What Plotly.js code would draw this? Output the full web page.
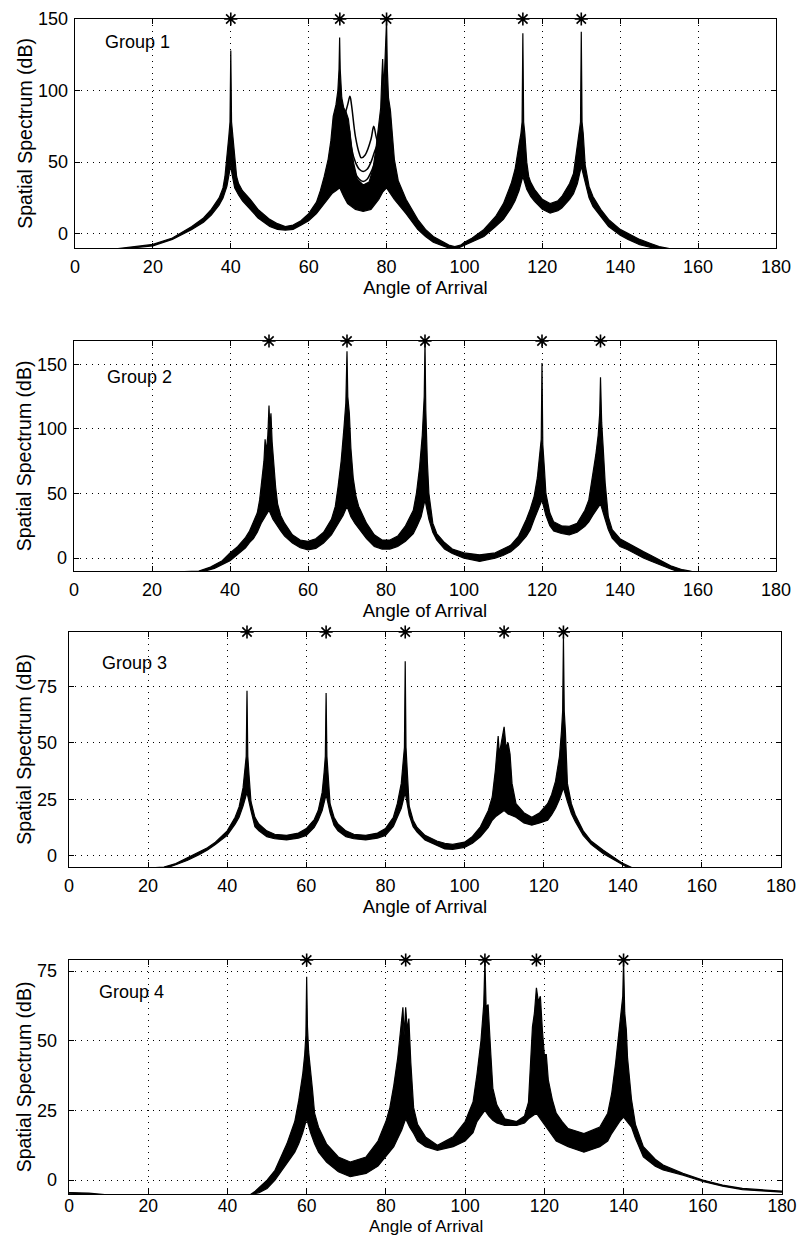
<!DOCTYPE html>
<html>
<head>
<meta charset="utf-8">
<script src="https://cdn.plot.ly/plotly-3.0.1.min.js"></script>
<style>html,body{margin:0;padding:0;background:#fff;}#chart{width:800px;height:1237px;}</style>
</head>
<body>
<div id="chart"></div>
<script>
// ---------- DATA ----------
const panelLabels = ["Group 1", "Group 2", "Group 3", "Group 4"];
const xTitle = "Angle of Arrival";
const yTitle = "Spatial Spectrum (dB)";
const xTicks = [0, 20, 40, 60, 80, 100, 120, 140, 160, 180];

// true directions of arrival (asterisks on top)
const g1Doa = [40, 68, 80, 115, 130];
const g2Doa = [50, 70, 90, 120, 135];
const g3Doa = [45, 65, 85, 110, 125];
const g4Doa = [60, 85, 105, 118, 140];

// y ticks
const g1YTicks = [0, 50, 100, 150];
const g2YTicks = [0, 50, 100, 150];
const g3YTicks = [0, 25, 50, 75];
const g4YTicks = [0, 25, 50, 75];

// Group 1: upper / lower envelope of the bundle of spectra [angle, dB]
const g1Upper = [[0,-14],[12,-10],[16,-9],[20,-7.5],[25,-3],[30,5],[33,11],[35,17],[37,25],[38,32],[38.5,40],[39,52],[39.5,68],[39.8,78],[40,128],[40.2,78],[40.5,68],[41,52],[41.5,40],[42,35],[43,30],[45,24],[47,17],[50,10],[52,7],[54,5],[56,6],[58,9],[60,14],[62,22],[63,30],[64,40],[65,52],[65.7,65],[66.3,82],[67,90],[67.5,100],[67.8,115],[67.95,137],[68.1,115],[68.5,95],[69,88],[69.6,85],[70.2,80],[70.8,65],[71.5,50],[72.5,38],[74,34],[75.5,36],[76.5,45],[77.3,60],[78,75],[78.5,88],[78.8,110],[79,122],[79.3,100],[79.6,118],[80,149],[80.2,115],[80.5,95],[81,86],[81.5,70],[82,52],[83,37],[85,24],[88,10],[90,3],[92,-2],[94,-5],[96,-8],[97.5,-9],[99,-8],[100,-6],[102,-3],[105,3],[108,12],[110,21],[112,35],[113,45],[113.5,55],[114,62],[114.5,70],[114.8,78],[115,140],[115.2,78],[115.5,70],[116,50],[116.5,40],[117,36],[118,31],[120,24],[122,21],[124,23],[125,26],[127,35],[128,42],[128.5,52],[129,62],[129.5,72],[129.8,78],[130,141],[130.2,78],[130.5,70],[131,48],[132,33],[133,26],[135,17],[137,10],[140,3],[142,0],[145,-4],[148,-7],[150,-9],[152,-10],[155,-12]];
const g1Lower = [[0,-14],[12,-10.5],[16,-9.8],[20,-8.5],[25,-4],[30,3],[33,8],[35,13],[37,20],[38,25],[39,33],[39.7,42],[40,48],[40.3,42],[41,32],[42,27],[43,23],[45,17],[47,11],[50,5],[52,3],[54,2.5],[56,3],[58,6],[60,9],[62,14],[64,21],[66,28],[67,30],[68,32],[69,26],[70,21],[72,17],[74,15.5],[76,17],[78,24],[79,29],[80,32],[81,28],[82,24],[85,14],[88,3],[90,-2],[92,-6],[94,-8],[96,-10],[98,-10.5],[100,-8],[102,-5.5],[105,-2],[108,5],[110,10],[112,18],[113,23],[114,30],[115,40],[116,31],[117,26],[118,22.6],[120,17],[122,14.4],[124,16],[125,18],[127,24],[128,28],[129,35],[130,47],[131,35],[132,25],[133,19],[135,12],[137,5],[140,-1],[142,-4],[145,-7.7],[148,-9.5],[150,-11]];
// Group 1: a few stray spectra between 68 and 80 degrees
const g1StrayA = [[69,80],[70,90],[70.6,96],[71,90],[72,68],[73,56],[73.5,53],[74.5,55],[76,66],[76.7,75],[77.3,68],[78,60]];
const g1StrayB = [[70.5,72],[71,60],[72,50],[73,45],[74,43.5],[75,45],[76,50],[77,58],[77.6,62]];
const g1StrayC = [[71,52],[72,42],[73,38],[74,36.5],[75,38],[76,43],[77,50]];

// Group 2
const g2Upper = [[0,-14],[32,-10],[35,-7],[38,-2],[40,4],[42,9],[44,16],[45,21],[46,28],[47,35],[47.6,45],[48.2,60],[48.7,75],[49,92],[49.3,82],[49.7,95],[50,118],[50.2,100],[50.5,112],[50.8,90],[51.2,72],[51.7,55],[52.2,42],[53,33],[54,27],[56,18],[58,14],[60,13],[62,15],[64,20],[66,30],[67,40],[67.7,55],[68.5,75],[69.2,100],[69.7,120],[70,160],[70.2,125],[70.6,112],[71,85],[71.6,62],[72.3,48],[73,40],[75,27],[77,18],[79,14],[81,14],[83,17],[85,25],[87,37],[87.8,50],[88.6,70],[89.3,95],[89.8,125],[90,167],[90.2,115],[90.6,75],[91,50],[92,27],[93,19],[95,12],[97,7],[100,4],[104,2.5],[108,4],[110,7],[112,10],[114,17],[116,30],[117,38],[118,48],[118.8,62],[119.4,78],[119.8,92],[120,151],[120.2,88],[120.6,70],[121,50],[122,35],[123,28],[125,25],[127,24.5],[129,27],[131,37],[132,45],[133,63],[133.8,80],[134.4,95],[134.8,112],[135,140],[135.3,105],[135.7,85],[136.2,58],[137,32],[138,22],[140,15],[142,11.6],[144,8],[146,5],[148,2],[150,-1],[153,-6],[156,-9],[158,-10],[160,-12]];
const g2Lower = [[0,-14],[33,-10.5],[36,-8],[38,-5],[40,-2],[42,3],[44,8],[45,12],[46,15],[47,20],[48,27],[49,32],[50,37],[51,30],[52,25],[53,21],[54,17],[56,11.6],[58,8],[60,6.4],[62,7.5],[64,11.6],[66,18],[67,23],[68,28],[69,33],[70,40],[71,32],[72,27],[73,23],[75,15],[77,9],[79,7],[81,7],[83,9],[85,13],[87,19],[88,25],[89,32],[90,45],[91,30],[92,20],[93,14],[95,7],[97,3.5],[100,0],[104,-2.6],[108,0],[110,2],[112,5],[114,10],[116,17],[117,22],[118,30],[119,38],[120,45],[121,33],[122,25],[123,21],[125,19],[127,18],[129,20],[131,24.5],[132,28],[133,33],[134,38],[135,42],[136,32],[137,22],[138,15.5],[140,9],[142,6.4],[144,3],[146,0],[148,-2.5],[150,-5],[153,-8.5],[155,-10.5]];

// Group 3
const g3Upper = [[0,-8],[24,-5],[27,-3.5],[30,-1],[33,1.5],[35,3.5],[37,6],[40,11],[42,17],[43,21.6],[44,30],[44.5,38],[44.8,44],[45,73],[45.2,44],[45.5,36],[46,24],[47,17],[48,14],[50,11],[52,9.5],[55,9],[58,10],[60,12],[62,16],[63,20],[64,28],[64.5,37],[64.8,44],[65,72],[65.2,44],[65.5,36],[66,23],[67,17],[68,14],[70,11],[72,9.5],[75,9],[78,10],[80,12],[82,17],[83,23],[84,32],[84.5,42],[84.8,48],[85,86],[85.2,48],[85.5,38],[86,22],[87,15.7],[88,12.5],[90,9],[93,6.5],[95,5.5],[97,5],[100,6],[102,8.5],[104,12.8],[106,20],[107,26],[107.8,38],[108.5,53],[108.8,45],[109.3,50],[110,57],[110.5,48],[111,50],[111.5,45],[112,32],[113,23],[115,19],[117,17],[119,19],[121,23],[122,27],[123,33],[124,44],[124.5,55],[124.8,64],[125,97],[125.2,64],[125.5,55],[126,32],[127,23],[128,18],[130,11],[132,6.5],[135,2.5],[138,-1],[140,-3.4],[142,-5],[144,-7]];
const g3Lower = [[0,-8],[24.5,-5.5],[27,-4],[30,-2],[33,0.5],[35,2.5],[37,5],[40,9],[42,14],[43,17],[44,22],[45,28],[46,20],[47,12.8],[48,11],[50,8.4],[52,7.5],[55,7],[58,7.8],[60,9],[62,12.5],[63,15.7],[64,20],[65,27],[66,19],[67,13.5],[68,11],[70,8.4],[72,7.5],[75,7],[78,7.8],[80,9],[82,13],[83,17],[84,21],[85,28],[86,18],[87,12.8],[88,10.5],[90,7],[93,4.5],[95,3],[97,2.8],[100,3.7],[102,5.5],[104,8.4],[106,12.5],[107,15.7],[108,17.5],[110,20],[111,18.5],[113,17],[115,14.5],[117,13.5],[119,14.5],[121,15.7],[122,18],[123,21],[124,25],[125,30],[126,24],[127,18.7],[128,15],[130,9],[132,5],[135,1],[138,-2],[140,-4],[142,-6]];

// Group 4
const g4Upper = [[0,-4.5],[5,-4.7],[9,-5.2],[20,-7],[45,-6],[47,-4],[50,0],[52,3.5],[55,13],[57,21],[58,28.6],[59,38],[59.5,45],[59.8,52],[60,73],[60.2,55],[60.5,46],[61,40],[61.5,32],[62,24],[63,19],[65,13],[68,8.3],[71,6.5],[75,8.3],[78,14],[80,21],[81,26],[82,34],[83,44],[83.8,55],[84.3,62],[84.6,52],[85,62],[85.4,54],[85.8,58],[86.3,42],[87,26],[88,20],[90,15.5],[93,12.5],[97,15.5],[100,21],[102,28],[103,38],[104,50],[104.7,63],[105,79],[105.3,62],[105.8,63],[106.5,45],[107,33],[108,27],[110,22],[113,21],[115,23],[116,28],[116.5,42],[117,55],[117.5,60],[118,69],[118.5,64],[119,66],[119.5,54],[120,45],[120.5,45],[121,36],[122,29],[123,24],[124.5,21],[126,18.5],[130,16.7],[134,19],[136,24],[137,31],[138,42],[139,55],[139.5,60],[139.8,66],[140,79],[140.3,60],[140.7,54],[141,44],[142,29],[143,20],[145,12],[148,7.5],[150,5.4],[155,2.4],[160,0],[165,-1.8],[170,-3],[175,-3.6],[180,-4]];
const g4Lower = [[0,-4.7],[5,-5],[8,-5.5],[20,-8],[46,-5.2],[48,-4.5],[50,-3],[52,0],[55,6],[57,10],[58,13],[59,17],[60,22],[61,17],[62,13],[63,10],[65,6.5],[68,3],[71,1.2],[75,2.4],[78,5],[80,8.3],[82,12],[83,15],[84,18],[85,22],[86,19],[87,16.7],[88,14],[90,12],[93,10.7],[97,12],[100,14],[102,17],[103,21],[104,23],[105,25],[106,23],[107,21.5],[108,20.5],[110,19.6],[113,19.6],[115,20.5],[116,22],[117,23],[118,24],[119,22],[120,20],[121,18],[123,14],[126,12],[130,10],[134,12],[136,14],[137,16.7],[138,19],[139,21],[140,22.6],[141,21],[142,19],[143,15],[145,8.3],[148,5],[150,3.6],[155,1.8],[160,-0.5],[165,-2.2],[170,-3.4],[175,-3.9],[180,-4.3]];

// ---------- STYLE / LAYOUT ----------
const FONT = '"Liberation Sans", Arial, Helvetica, sans-serif';
const W = 800, H = 1237;
const panels = [
  {upper: g1Upper, lower: g1Lower, stray: [g1StrayA, g1StrayB, g1StrayC], doa: g1Doa, yticks: g1YTicks, yr: [-10, 150], px: [75, 776], py: [19, 248], label: [103, 42], tlso: 2},
  {upper: g2Upper, lower: g2Lower, stray: [], doa: g2Doa, yticks: g2YTicks, yr: [-10, 168], px: [74, 776], py: [341, 571], label: [105, 377], tlso: 2},
  {upper: g3Upper, lower: g3Lower, stray: [], doa: g3Doa, yticks: g3YTicks, yr: [-5, 99], px: [69, 781], py: [632, 867], label: [100, 663], tlso: 7},
  {upper: g4Upper, lower: g4Lower, stray: [], doa: g4Doa, yticks: g4YTicks, yr: [-5, 79], px: [69, 782], py: [960, 1194], label: [97, 992], tlso: 7}
];

const xs = p => p.map(d => d[0]);
const ys = p => p.map(d => d[1]);

const traces = [];
const layout = {
  width: W, height: H,
  margin: {l: 0, r: 0, t: 0, b: 0},
  paper_bgcolor: '#fff', plot_bgcolor: '#fff',
  showlegend: false,
  font: {family: FONT, color: '#000', size: 18},
  annotations: []
};

panels.forEach((p, i) => {
  const n = i + 1;
  const xa = n === 1 ? 'x' : 'x' + n;
  const ya = n === 1 ? 'y' : 'y' + n;
  const lineStyle = {color: '#000', width: 1.2};
  traces.push({type: 'scatter', mode: 'lines', x: xs(p.lower), y: ys(p.lower), xaxis: xa, yaxis: ya, line: lineStyle, hoverinfo: 'skip'});
  traces.push({type: 'scatter', mode: 'lines', x: xs(p.upper), y: ys(p.upper), xaxis: xa, yaxis: ya, line: lineStyle, fill: 'tonexty', fillcolor: '#000', hoverinfo: 'skip'});
  p.stray.forEach(s => traces.push({type: 'scatter', mode: 'lines', x: xs(s), y: ys(s), xaxis: xa, yaxis: ya, line: {color: '#000', width: 1.5, shape: 'spline'}, hoverinfo: 'skip'}));
  traces.push({type: 'scatter', mode: 'markers', x: p.doa, y: p.doa.map(() => p.yr[1]), xaxis: xa, yaxis: ya, cliponaxis: false,
    marker: {symbol: 'asterisk-open', size: 11, color: '#000', line: {color: '#000', width: 1.6}}, hoverinfo: 'skip'});

  const common = {
    showline: true, linecolor: '#000', linewidth: 1.3, mirror: 'ticks',
    ticks: 'inside', ticklen: 5, tickwidth: 1, tickcolor: '#000',
    showgrid: true, gridcolor: '#000', gridwidth: 1, griddash: '1px,5px',
    zeroline: false, tickfont: {family: FONT, size: 18, color: '#000'}
  };
  const xAxis = Object.assign({}, common, {
    domain: [p.px[0] / W, p.px[1] / W], anchor: ya, range: [0, 180],
    tickvals: xTicks, ticktext: xTicks.map(String), ticklabelstandoff: n === 4 ? -4 : 2
  });
  if (n < 4) {
    xAxis.title = {text: xTitle, font: {family: FONT, size: 18.5, color: '#000'}, standoff: 2};
  } else {
    // bottom panel: title drawn as a note so it can sit right at the page edge like the reference
    xAxis.tickfont = {family: FONT, size: 17.5, color: '#000'};
    layout.annotations.push({text: xTitle, xref: 'paper', yref: 'paper',
      x: ((p.px[0] + p.px[1]) / 2) / W, y: 0, xanchor: 'center', yanchor: 'bottom',
      showarrow: false, borderpad: 0, font: {family: FONT, size: 17, color: '#000'}});
  }
  layout[n === 1 ? 'xaxis' : 'xaxis' + n] = xAxis;
  layout[n === 1 ? 'yaxis' : 'yaxis' + n] = Object.assign({}, common, {
    domain: [1 - p.py[1] / H, 1 - p.py[0] / H], anchor: xa, range: p.yr,
    tickvals: p.yticks, ticktext: p.yticks.map(String), ticklabelstandoff: p.tlso,
    title: {text: yTitle, font: {family: FONT, size: 19.5, color: '#000'}, standoff: 0}
  });
  layout.annotations.push({text: panelLabels[i], xref: 'paper', yref: 'paper', x: p.label[0] / W, y: 1 - p.label[1] / H,
    xanchor: 'left', yanchor: 'middle', showarrow: false, font: {family: FONT, size: 18, color: '#000'}});
});

Plotly.newPlot('chart', traces, layout, {staticPlot: true, displayModeBar: false});
</script>
</body>
</html>
